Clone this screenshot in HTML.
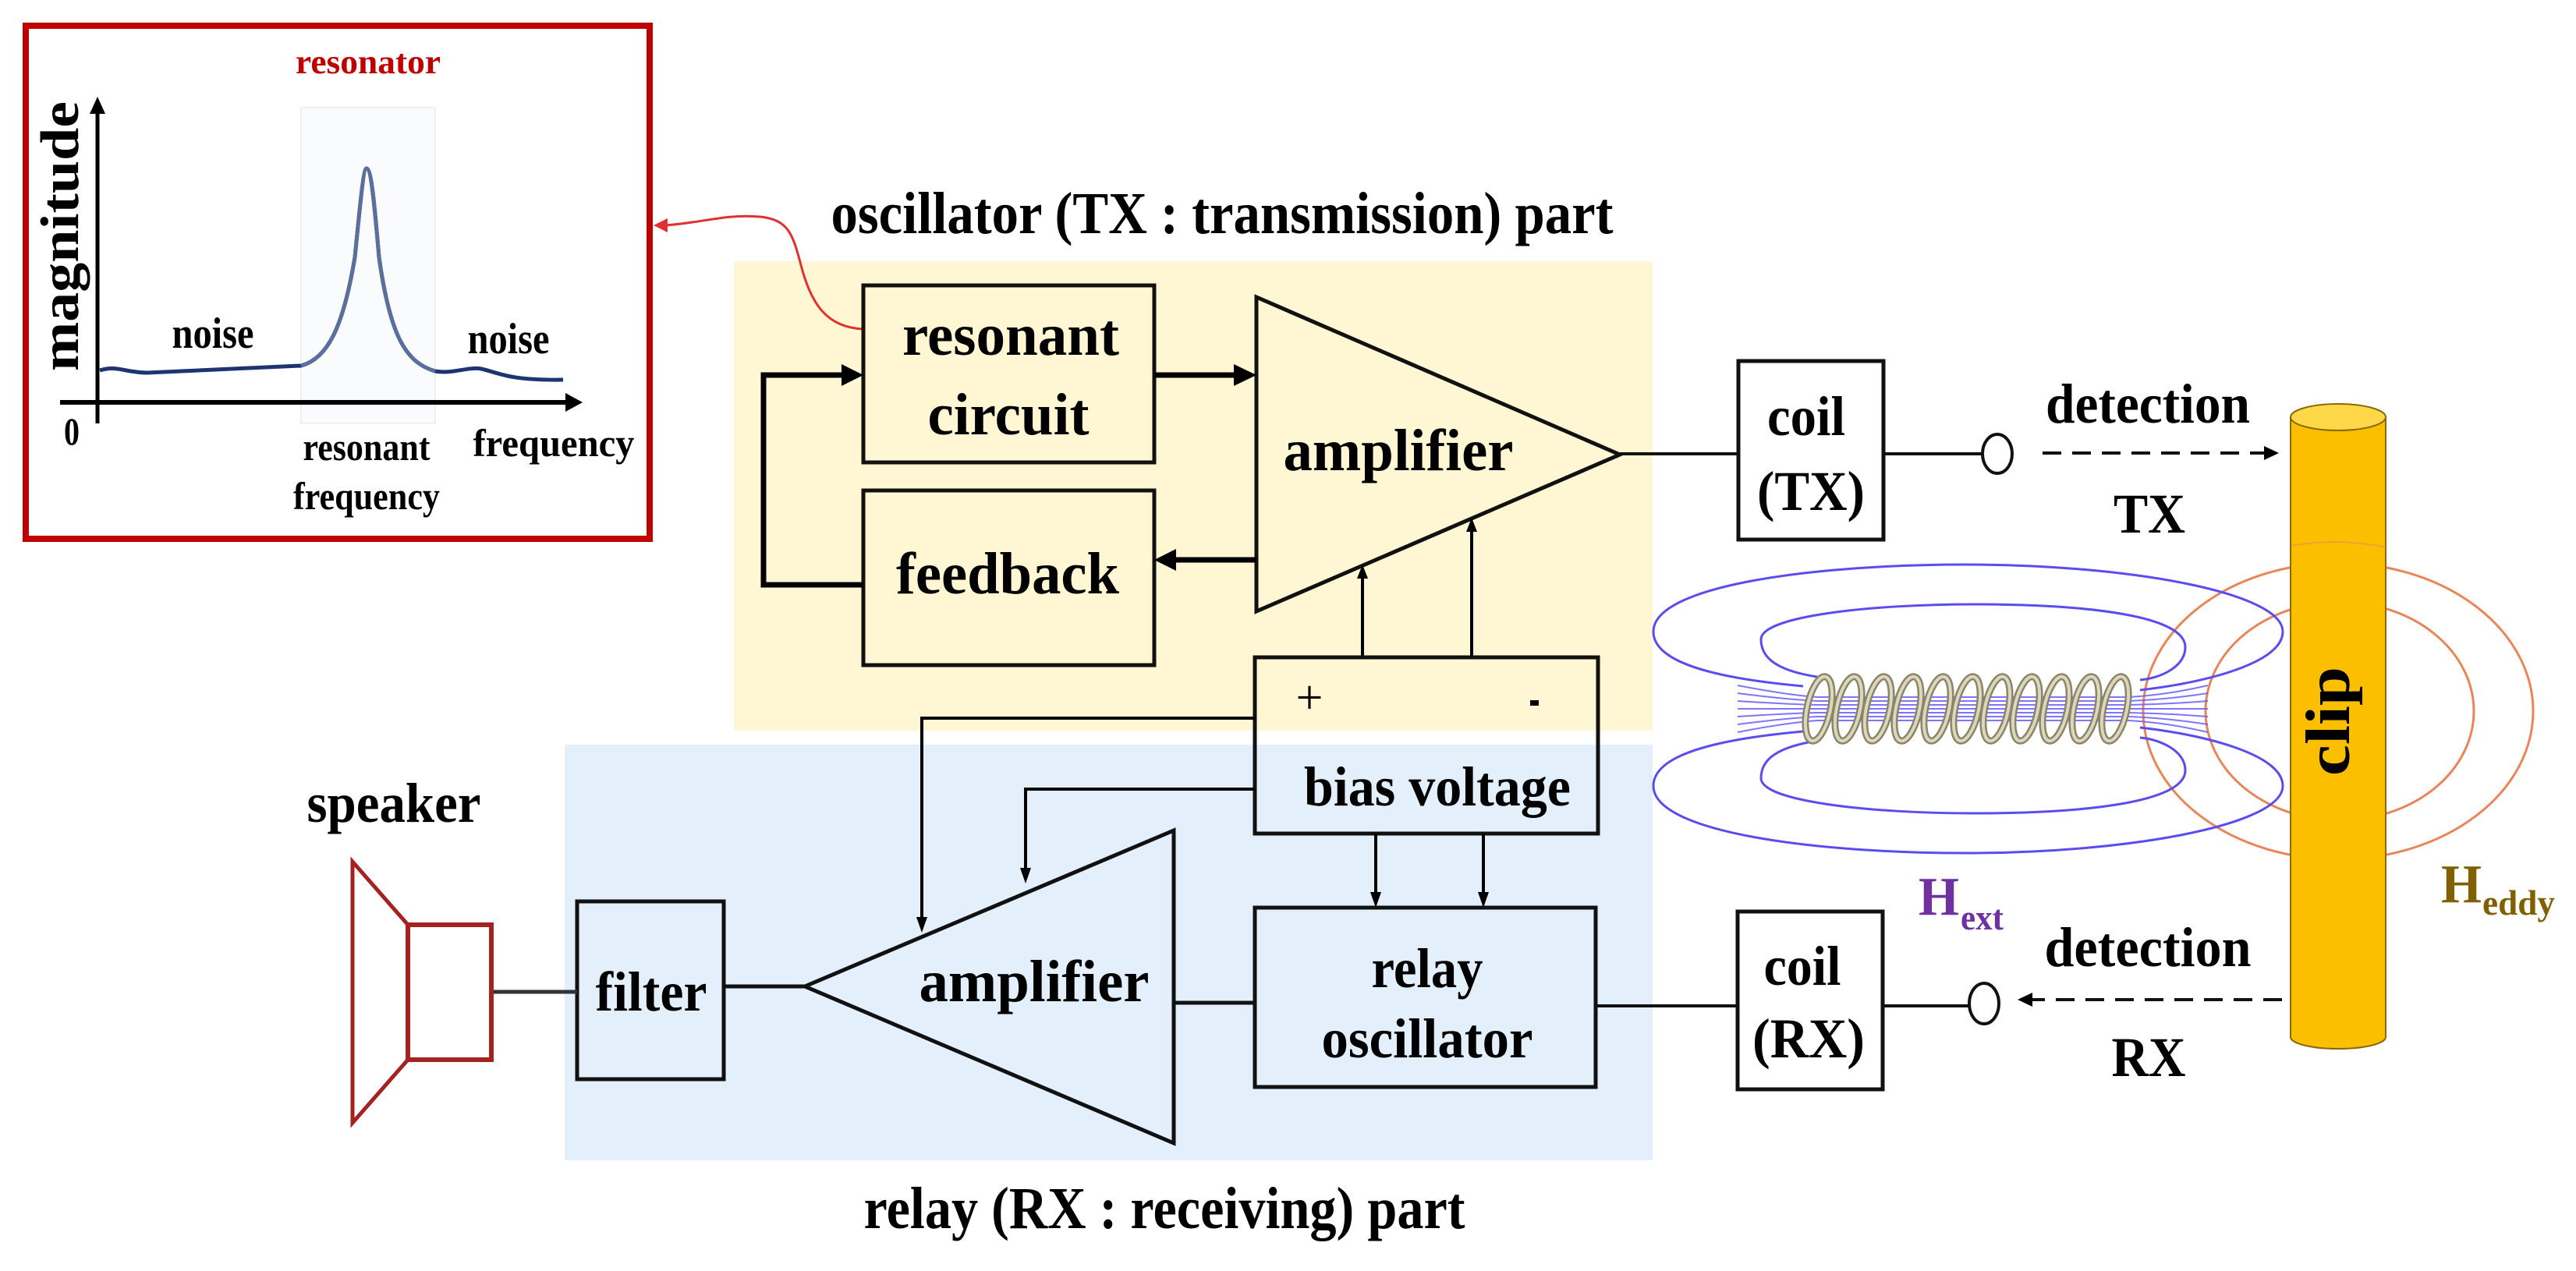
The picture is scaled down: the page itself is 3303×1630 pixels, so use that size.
<!DOCTYPE html>
<html><head><meta charset="utf-8"><style>
html,body{margin:0;padding:0;background:#fff}
svg{display:block}
text{font-family:"Liberation Serif",serif;font-weight:bold;fill:#000}
</style></head><body>
<svg width="3303" height="1630" viewBox="0 0 3303 1630" xmlns="http://www.w3.org/2000/svg">
<defs>
<marker id="ah" viewBox="0 0 10 10" refX="9" refY="5" markerWidth="4" markerHeight="4" orient="auto-start-reverse" markerUnits="strokeWidth"><path d="M0,0 L10,5 L0,10 z" fill="#000"/></marker>
<marker id="ahs" viewBox="0 0 10 10" refX="9" refY="5" markerWidth="6" markerHeight="6" orient="auto-start-reverse" markerUnits="strokeWidth"><path d="M0,1 L10,5 L0,9 z" fill="#000"/></marker>
</defs>

<!-- backgrounds -->
<rect x="941" y="335" width="1178" height="602" fill="#fff7d3"/>
<rect x="724" y="955" width="1395" height="533" fill="#e3effb"/>

<!-- red box -->
<rect x="33" y="33" width="800" height="658" fill="#fff" stroke="#c00000" stroke-width="8"/>
<rect x="386" y="138" width="172" height="405" fill="#fafbfd" stroke="#eef0f4" stroke-width="2"/>
<text x="472" y="94" font-size="44" text-anchor="middle" textLength="186" lengthAdjust="spacingAndGlyphs" style="fill:#c00000">resonator</text>
<line x1="125" y1="543" x2="125" y2="140" stroke="#000" stroke-width="5"/>
<path d="M115,146 L125,124 L135,146 z" fill="#000"/>
<line x1="77" y1="516" x2="730" y2="516" stroke="#000" stroke-width="6"/>
<path d="M725,504 L747,516 L725,528 z" fill="#000"/>
<path d="M128,475 C150,468 160,478 189,478 L386,469 C420,460 440,420 455,330 C462,260 466,216 470,216 C476,216 480,260 486,330 C500,430 520,465 558,476 C580,480 600,470 617,473 C640,478 650,488 722,487" fill="none" stroke="#1c3472" stroke-width="5"/>
<path d="M386,469 C420,460 440,420 455,330 C462,260 466,216 470,216 C476,216 480,260 486,330 C500,430 520,465 558,476" fill="none" stroke="#5a6f9c" stroke-width="5"/>
<text transform="translate(100,303) rotate(-90)" font-size="70" text-anchor="middle" textLength="346" lengthAdjust="spacingAndGlyphs">magnitude</text>
<text x="273" y="446" font-size="56" text-anchor="middle" textLength="105" lengthAdjust="spacingAndGlyphs">noise</text>
<text x="652" y="453" font-size="56" text-anchor="middle" textLength="105" lengthAdjust="spacingAndGlyphs">noise</text>
<text x="92" y="570" font-size="50" text-anchor="middle" textLength="20" lengthAdjust="spacingAndGlyphs">0</text>
<text x="470" y="590" font-size="50" text-anchor="middle" textLength="163" lengthAdjust="spacingAndGlyphs">resonant</text>
<text x="470" y="653" font-size="50" text-anchor="middle" textLength="188" lengthAdjust="spacingAndGlyphs">frequency</text>
<text x="710" y="585" font-size="50" text-anchor="middle" textLength="207" lengthAdjust="spacingAndGlyphs">frequency</text>

<!-- red connector -->
<path d="M1107,422 C1060,420 1040,390 1027,340 C1016,298 1010,282 975,278 C930,274 900,286 852,289" fill="none" stroke="#e03030" stroke-width="3"/>
<path d="M856,280 L838,289 L856,298 z" fill="#e03030"/>

<!-- TX title -->
<text x="1567" y="299" font-size="76" text-anchor="middle" textLength="1003" lengthAdjust="spacingAndGlyphs">oscillator (TX : transmission) part</text>

<!-- TX blocks -->
<rect x="1107" y="366" width="373" height="227" fill="none" stroke="#111" stroke-width="5"/>
<text x="1296" y="455" font-size="76" text-anchor="middle" textLength="278" lengthAdjust="spacingAndGlyphs">resonant</text>
<text x="1293" y="557" font-size="76" text-anchor="middle" textLength="207" lengthAdjust="spacingAndGlyphs">circuit</text>
<rect x="1107" y="629" width="373" height="224" fill="none" stroke="#111" stroke-width="5"/>
<text x="1292" y="761" font-size="76" text-anchor="middle" textLength="286" lengthAdjust="spacingAndGlyphs">feedback</text>
<polygon points="1611,381 2077,583 1611,784" fill="none" stroke="#111" stroke-width="5"/>
<text x="1793" y="603" font-size="76" text-anchor="middle" textLength="295" lengthAdjust="spacingAndGlyphs">amplifier</text>
<!-- thick arrows -->
<line x1="1480" y1="481" x2="1585" y2="481" stroke="#000" stroke-width="7"/>
<path d="M1582,467 L1611,481 L1582,495 z" fill="#000"/>
<line x1="1611" y1="718" x2="1505" y2="718" stroke="#000" stroke-width="7"/>
<path d="M1508,704 L1480,718 L1508,732 z" fill="#000"/>
<polyline points="1107,750 979,750 979,481 1082,481" fill="none" stroke="#000" stroke-width="7"/>
<path d="M1079,467 L1107,481 L1079,495 z" fill="#000"/>
<!-- bias up arrows -->
<line x1="1747" y1="842" x2="1747" y2="740" stroke="#000" stroke-width="4"/>
<path d="M1740,742 L1747,724 L1754,742 z" fill="#000"/>
<line x1="1887" y1="842" x2="1887" y2="680" stroke="#000" stroke-width="4"/>
<path d="M1880,682 L1887,664 L1894,682 z" fill="#000"/>

<!-- bias voltage -->
<rect x="1609" y="843" width="440" height="226" fill="none" stroke="#111" stroke-width="5"/>
<text x="1679" y="915" font-size="62" text-anchor="middle" style="font-weight:normal">+</text>
<rect x="1962" y="898" width="11" height="7" fill="#000"/>
<text x="1843" y="1033" font-size="72" text-anchor="middle" textLength="342" lengthAdjust="spacingAndGlyphs">bias voltage</text>
<polyline points="1609,921 1182,921 1182,1178" fill="none" stroke="#000" stroke-width="4"/>
<path d="M1175,1176 L1182,1196 L1189,1176 z" fill="#000"/>
<polyline points="1609,1012 1315,1012 1315,1115" fill="none" stroke="#000" stroke-width="4"/>
<path d="M1308,1113 L1315,1133 L1322,1113 z" fill="#000"/>
<line x1="1764" y1="1069" x2="1764" y2="1146" stroke="#000" stroke-width="4"/>
<path d="M1757,1144 L1764,1164 L1771,1144 z" fill="#000"/>
<line x1="1902" y1="1069" x2="1902" y2="1146" stroke="#000" stroke-width="4"/>
<path d="M1895,1144 L1902,1164 L1909,1144 z" fill="#000"/>

<!-- relay oscillator -->
<rect x="1609" y="1164" width="437" height="230" fill="none" stroke="#111" stroke-width="5"/>
<text x="1830" y="1266" font-size="72" text-anchor="middle" textLength="143" lengthAdjust="spacingAndGlyphs">relay</text>
<text x="1830" y="1356" font-size="72" text-anchor="middle" textLength="271" lengthAdjust="spacingAndGlyphs">oscillator</text>

<!-- RX amplifier -->
<polygon points="1032,1265 1505,1065 1505,1466" fill="none" stroke="#111" stroke-width="5"/>
<text x="1326" y="1284" font-size="76" text-anchor="middle" textLength="295" lengthAdjust="spacingAndGlyphs">amplifier</text>
<line x1="1505" y1="1286" x2="1609" y2="1286" stroke="#111" stroke-width="5"/>

<!-- filter -->
<rect x="740" y="1156" width="188" height="228" fill="none" stroke="#111" stroke-width="5"/>
<text x="835" y="1296" font-size="72" text-anchor="middle" textLength="143" lengthAdjust="spacingAndGlyphs">filter</text>
<line x1="928" y1="1265" x2="1032" y2="1265" stroke="#111" stroke-width="5"/>
<line x1="630" y1="1272" x2="740" y2="1272" stroke="#333" stroke-width="5"/>

<!-- speaker -->
<text x="505" y="1054" font-size="72" text-anchor="middle" textLength="223" lengthAdjust="spacingAndGlyphs">speaker</text>
<polygon points="452,1105 523,1186 523,1359 452,1440" fill="none" stroke="#a52222" stroke-width="5"/>
<rect x="523" y="1186" width="107" height="173" fill="none" stroke="#a52222" stroke-width="6"/>

<!-- RX title -->
<text x="1493" y="1575" font-size="76" text-anchor="middle" textLength="771" lengthAdjust="spacingAndGlyphs">relay (RX : receiving) part</text>

<!-- coil TX -->
<line x1="2077" y1="582" x2="2229" y2="582" stroke="#111" stroke-width="4"/>
<rect x="2229" y="463" width="186" height="229" fill="#fff" stroke="#111" stroke-width="5"/>
<text x="2316" y="558" font-size="72" text-anchor="middle" textLength="100" lengthAdjust="spacingAndGlyphs">coil</text>
<text x="2322" y="654" font-size="72" text-anchor="middle" textLength="138" lengthAdjust="spacingAndGlyphs">(TX)</text>
<line x1="2415" y1="582" x2="2541" y2="582" stroke="#111" stroke-width="4"/>
<ellipse cx="2561" cy="582" rx="19" ry="25" fill="#fff" stroke="#111" stroke-width="4"/>
<line x1="2619" y1="581" x2="2905" y2="581" stroke="#111" stroke-width="4" stroke-dasharray="24 14"/>
<path d="M2903,572 L2922,581 L2903,590 z" fill="#000"/>
<text x="2754" y="542" font-size="72" text-anchor="middle" textLength="262" lengthAdjust="spacingAndGlyphs">detection</text>
<text x="2756" y="683" font-size="72" text-anchor="middle" textLength="92" lengthAdjust="spacingAndGlyphs">TX</text>

<!-- coil RX -->
<line x1="2046" y1="1290" x2="2228" y2="1290" stroke="#111" stroke-width="4"/>
<rect x="2228" y="1169" width="186" height="228" fill="#fff" stroke="#111" stroke-width="5"/>
<text x="2311" y="1263" font-size="72" text-anchor="middle" textLength="99" lengthAdjust="spacingAndGlyphs">coil</text>
<text x="2319" y="1356" font-size="72" text-anchor="middle" textLength="144" lengthAdjust="spacingAndGlyphs">(RX)</text>
<line x1="2414" y1="1290" x2="2525" y2="1290" stroke="#111" stroke-width="4"/>
<ellipse cx="2544" cy="1287" rx="19" ry="26" fill="#fff" stroke="#111" stroke-width="4"/>
<line x1="2926" y1="1282" x2="2605" y2="1282" stroke="#111" stroke-width="4" stroke-dasharray="24 14"/>
<path d="M2606,1273 L2587,1282 L2606,1291 z" fill="#000"/>
<text x="2754" y="1239" font-size="72" text-anchor="middle" textLength="265" lengthAdjust="spacingAndGlyphs">detection</text>
<text x="2755" y="1380" font-size="72" text-anchor="middle" textLength="95" lengthAdjust="spacingAndGlyphs">RX</text>

<!-- orange eddy rings -->
<ellipse cx="2998" cy="912" rx="250" ry="190" fill="none" stroke="#e8865a" stroke-width="3"/>
<ellipse cx="3000" cy="912" rx="172" ry="140" fill="none" stroke="#e8865a" stroke-width="3"/>

<!-- clip -->
<path d="M2937,535 L2937,1330 A61,15 0 0 0 3059,1330 L3059,535 z" fill="#fbbf00" stroke="#8a6a00" stroke-width="2"/>
<ellipse cx="2998" cy="535" rx="61" ry="17" fill="#ffd84a" stroke="#8a6a00" stroke-width="2"/>
<path d="M2937,700 A250,190 0 0 1 3059,702" fill="none" stroke="#e8865a" stroke-width="2" opacity=".5"/>
<text transform="translate(3012,925) rotate(-90)" font-size="80" text-anchor="middle" textLength="140" lengthAdjust="spacingAndGlyphs">clip</text>

<!-- field lines -->
<g fill="none" stroke="#5b4cf0" stroke-width="3">
<path d="M2312,880 C2200,870 2120,850 2120,810 C2120,750 2330,724 2520,724 C2730,724 2927,760 2927,810 C2927,850 2830,875 2744,885"/>
<path d="M2330,868 C2280,860 2258,845 2258,820 C2258,790 2400,775 2530,775 C2680,775 2802,790 2802,830 C2802,855 2770,870 2744,872"/>
<g transform="translate(0,1818) scale(1,-1)">
<path d="M2312,880 C2200,870 2120,850 2120,810 C2120,750 2330,724 2520,724 C2730,724 2927,760 2927,810 C2927,850 2830,875 2744,885"/>
<path d="M2330,868 C2280,860 2258,845 2258,820 C2258,790 2400,775 2530,775 C2680,775 2802,790 2802,830 C2802,855 2770,870 2744,872"/>
</g>
</g>
<g fill="none" stroke="#6a5cff" stroke-width="2" opacity=".85">
<path d="M2228,879 Q2290,891 2330,894 L2730,894 Q2780,891 2831,879"/>
<path d="M2228,889 Q2290,897 2330,899 L2730,899 Q2780,897 2831,889"/>
<path d="M2228,899 Q2290,903 2330,904 L2730,904 Q2780,903 2831,899"/>
<path d="M2228,909 L2831,909"/>
<path d="M2228,919 Q2290,915 2330,914 L2730,914 Q2780,915 2831,919"/>
<path d="M2228,929 Q2290,921 2330,919 L2730,919 Q2780,921 2831,929"/>
<path d="M2228,939 Q2290,927 2330,924 L2730,924 Q2780,927 2831,939"/>
</g>
<!-- spring coil -->
<g fill="none">
<g stroke="#8a8468" stroke-width="9">
<ellipse cx="2332" cy="909" rx="15" ry="42" transform="rotate(12 2332 909)"/>
<ellipse cx="2370" cy="909" rx="15" ry="42" transform="rotate(12 2370 909)"/>
<ellipse cx="2408" cy="909" rx="15" ry="42" transform="rotate(12 2408 909)"/>
<ellipse cx="2446" cy="909" rx="15" ry="42" transform="rotate(12 2446 909)"/>
<ellipse cx="2484" cy="909" rx="15" ry="42" transform="rotate(12 2484 909)"/>
<ellipse cx="2522" cy="909" rx="15" ry="42" transform="rotate(12 2522 909)"/>
<ellipse cx="2560" cy="909" rx="15" ry="42" transform="rotate(12 2560 909)"/>
<ellipse cx="2598" cy="909" rx="15" ry="42" transform="rotate(12 2598 909)"/>
<ellipse cx="2636" cy="909" rx="15" ry="42" transform="rotate(12 2636 909)"/>
<ellipse cx="2674" cy="909" rx="15" ry="42" transform="rotate(12 2674 909)"/>
<ellipse cx="2712" cy="909" rx="15" ry="42" transform="rotate(12 2712 909)"/>
</g>
<g stroke="#dcd6bc" stroke-width="4">
<ellipse cx="2332" cy="909" rx="15" ry="42" transform="rotate(12 2332 909)"/>
<ellipse cx="2370" cy="909" rx="15" ry="42" transform="rotate(12 2370 909)"/>
<ellipse cx="2408" cy="909" rx="15" ry="42" transform="rotate(12 2408 909)"/>
<ellipse cx="2446" cy="909" rx="15" ry="42" transform="rotate(12 2446 909)"/>
<ellipse cx="2484" cy="909" rx="15" ry="42" transform="rotate(12 2484 909)"/>
<ellipse cx="2522" cy="909" rx="15" ry="42" transform="rotate(12 2522 909)"/>
<ellipse cx="2560" cy="909" rx="15" ry="42" transform="rotate(12 2560 909)"/>
<ellipse cx="2598" cy="909" rx="15" ry="42" transform="rotate(12 2598 909)"/>
<ellipse cx="2636" cy="909" rx="15" ry="42" transform="rotate(12 2636 909)"/>
<ellipse cx="2674" cy="909" rx="15" ry="42" transform="rotate(12 2674 909)"/>
<ellipse cx="2712" cy="909" rx="15" ry="42" transform="rotate(12 2712 909)"/>
</g>
</g>

<!-- H labels -->
<text x="2460" y="1173" font-size="70" textLength="52" lengthAdjust="spacingAndGlyphs" style="fill:#7030a0">H</text>
<text x="2514" y="1192" font-size="46" textLength="55" lengthAdjust="spacingAndGlyphs" style="fill:#7030a0">ext</text>
<text x="3130" y="1157" font-size="70" textLength="52" lengthAdjust="spacingAndGlyphs" style="fill:#806000">H</text>
<text x="3183" y="1173" font-size="46" textLength="93" lengthAdjust="spacingAndGlyphs" style="fill:#806000">eddy</text>
</svg>
</body></html>
